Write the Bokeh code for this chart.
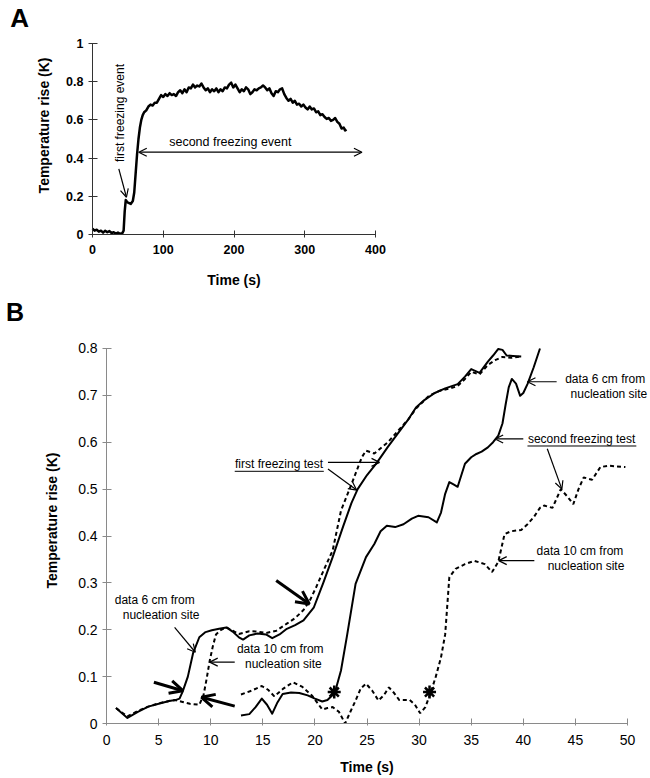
from math import pi
from bokeh.plotting import figure
from bokeh.models import Range1d, FixedTicker, Label, Arrow, OpenHead, LinearAxis
from bokeh.layouts import column
from bokeh.embed import file_html
from bokeh.resources import INLINE

# ---------------- Panel A data ----------------
A_T = [0, 3, 6, 9, 12, 15, 18, 21, 24, 27, 30, 33, 36, 39, 42, 44, 45.5, 47, 49, 51, 54, 57, 59, 61, 63, 65,
       67, 69, 71, 73, 76, 79, 82, 85, 88, 91, 94, 97, 100, 103, 106, 109, 112, 115, 118, 121, 124, 127, 130,
       133, 136, 139, 142, 145, 148, 151, 154, 157, 160, 163, 166, 169, 172, 175, 178, 181, 184, 187, 190, 193,
       196, 199, 202, 205, 208, 211, 214, 217, 220, 223, 226, 229, 232, 235, 238, 241, 244, 247, 250, 253, 256,
       259, 262, 265, 268, 271, 274, 277, 280, 283, 286, 289, 292, 295, 298, 301, 304, 307, 310, 313, 316, 319,
       322, 325, 328, 331, 334, 337, 340, 343, 346, 349, 352, 355, 357, 359]
A_V = [0.03, 0.02, 0.025, 0.015, 0.02, 0.01, 0.02, 0.012, 0.018, 0.008, 0.012, 0.005, 0.01, 0.004, 0.006, 0.02,
       0.12, 0.18, 0.17, 0.165, 0.16, 0.175, 0.22, 0.32, 0.42, 0.5, 0.56, 0.6, 0.625, 0.64, 0.65, 0.67, 0.68,
       0.675, 0.69, 0.69, 0.71, 0.73, 0.72, 0.735, 0.725, 0.74, 0.73, 0.735, 0.725, 0.745, 0.755, 0.74, 0.76,
       0.745, 0.77, 0.765, 0.785, 0.77, 0.78, 0.775, 0.79, 0.77, 0.755, 0.765, 0.745, 0.76, 0.75, 0.765, 0.745,
       0.76, 0.75, 0.77, 0.765, 0.785, 0.795, 0.77, 0.785, 0.765, 0.745, 0.76, 0.75, 0.77, 0.76, 0.735, 0.745,
       0.76, 0.755, 0.765, 0.77, 0.78, 0.77, 0.755, 0.765, 0.74, 0.725, 0.75, 0.745, 0.76, 0.765, 0.735, 0.715,
       0.7, 0.71, 0.69, 0.7, 0.68, 0.685, 0.67, 0.68, 0.665, 0.655, 0.67, 0.655, 0.66, 0.64, 0.645, 0.625, 0.63,
       0.615, 0.605, 0.61, 0.595, 0.6, 0.61, 0.59, 0.58, 0.555, 0.56, 0.545, 0.55]
A_XTICKS = [0, 100, 200, 300, 400]
A_XLABELS = ["0", "100", "200", "300", "400"]
A_YTICKS = [0, 0.2, 0.4, 0.6, 0.8, 1.0]
A_YLABELS = ["0", "0.2", "0.4", "0.6", "0.8", "1"]

# ---------------- Panel B data ----------------
# first freezing test, 6 cm (solid)
B1_T = [0.9, 2.0, 3.0, 4.0, 5.0, 6.0, 6.6, 7.0, 7.3, 7.8, 8.3, 8.9, 9.5, 10.1, 10.8, 11.5, 12.1, 12.7, 13.1,
        13.7, 14.5, 15.3, 15.9, 16.6, 17.3, 18.1, 18.9, 19.9, 20.8, 21.7, 22.7, 23.5, 24.1, 25.0, 25.9, 27.0,
        28.0, 29.0, 29.7, 30.5, 31.5, 32.5, 33.7, 34.4, 35.0, 35.8, 36.6, 37.1, 37.6, 38.0, 38.4, 39.0, 39.8]
B1_V = [0.033, 0.012, 0.025, 0.036, 0.042, 0.048, 0.05, 0.053, 0.068, 0.10, 0.15, 0.184, 0.195, 0.199, 0.202,
        0.205, 0.196, 0.184, 0.179, 0.188, 0.192, 0.19, 0.182, 0.19, 0.202, 0.21, 0.22, 0.248, 0.30, 0.355, 0.42,
        0.47, 0.50, 0.53, 0.555, 0.59, 0.62, 0.65, 0.674, 0.69, 0.705, 0.715, 0.724, 0.74, 0.756, 0.748, 0.772,
        0.785, 0.799, 0.797, 0.785, 0.784, 0.783]
# first freezing test, 10 cm (dotted)
B2_T = [0.9, 2.0, 3.0, 4.0, 5.0, 6.0, 6.6, 7.3, 8.0, 8.9, 9.3, 9.6, 9.9, 10.2, 10.5, 11.0, 11.5, 12.1, 12.7,
        13.7, 14.5, 15.3, 16.3, 17.3, 18.1, 18.9, 19.5, 20.1, 20.9, 21.7, 22.5, 23.5, 24.5, 24.9, 25.7, 27.0,
        28.0, 29.0, 29.7, 31.0, 32.0, 33.0, 33.7, 34.4, 35.0, 35.8, 36.6, 37.3, 38.0, 38.8, 39.8]
B2_V = [0.033, 0.015, 0.027, 0.036, 0.043, 0.048, 0.05, 0.046, 0.042, 0.04, 0.06, 0.095, 0.134, 0.165, 0.19,
        0.2, 0.205, 0.198, 0.191, 0.197, 0.196, 0.193, 0.198, 0.213, 0.225, 0.242, 0.262, 0.29, 0.33, 0.369,
        0.454, 0.51, 0.568, 0.582, 0.576, 0.60, 0.625, 0.65, 0.672, 0.70, 0.71, 0.715, 0.72, 0.735, 0.75, 0.745,
        0.765, 0.775, 0.782, 0.78, 0.783]
# second freezing test, 6 cm (solid)
B3_T = [12.9, 13.7, 14.3, 14.9, 15.4, 15.9, 16.4, 16.9, 17.7, 18.5, 19.3, 20.0, 20.7, 21.2, 21.9, 22.5, 23.1,
        23.9, 24.9, 25.7, 26.3, 26.9, 27.7, 28.5, 29.3, 29.9, 30.9, 31.7, 32.1, 32.5, 32.9, 33.3, 33.7, 34.4,
        35.0, 35.5, 36.0, 36.6, 37.1, 37.6, 38.0, 38.3, 38.6, 38.9, 39.3, 39.7, 40.0, 40.4, 41.0, 41.6]
B3_V = [0.017, 0.02, 0.035, 0.053, 0.04, 0.021, 0.045, 0.063, 0.066, 0.065, 0.06, 0.053, 0.047, 0.05, 0.065,
        0.113, 0.19, 0.298, 0.355, 0.383, 0.41, 0.422, 0.419, 0.425, 0.437, 0.443, 0.44, 0.429, 0.45, 0.49,
        0.515, 0.51, 0.505, 0.554, 0.568, 0.575, 0.58, 0.589, 0.6, 0.614, 0.64, 0.68, 0.717, 0.735, 0.725,
        0.699, 0.705, 0.724, 0.76, 0.80]
# second freezing test, 10 cm (dotted)
B4_T = [12.9, 13.9, 14.9, 15.5, 16.1, 17.0, 17.9, 18.8, 19.7, 20.2, 20.7, 21.2, 21.7, 22.3, 22.9, 23.4, 23.9,
        24.4, 24.9, 25.5, 26.1, 26.6, 27.1, 27.6, 28.1, 28.6, 29.1, 29.6, 30.1, 30.6, 31.1, 31.6, 32.1, 32.5,
        32.9, 33.5, 34.4, 35.3, 36.3, 37.0, 37.6, 38.2, 38.8, 39.8, 40.4, 41.0, 41.6, 42.0, 42.8, 43.6, 44.2,
        44.8, 45.3, 45.8, 46.6, 47.4, 48.2, 49.8]
B4_V = [0.062, 0.07, 0.08, 0.072, 0.058, 0.075, 0.088, 0.078, 0.06, 0.045, 0.03, 0.033, 0.035, 0.025, 0.0,
        0.025, 0.049, 0.075, 0.085, 0.07, 0.049, 0.06, 0.077, 0.065, 0.05, 0.05, 0.05, 0.04, 0.022, 0.035,
        0.065, 0.10, 0.141, 0.19, 0.312, 0.33, 0.34, 0.347, 0.34, 0.323, 0.345, 0.404, 0.41, 0.413, 0.425,
        0.44, 0.46, 0.465, 0.46, 0.50, 0.485, 0.468, 0.50, 0.525, 0.52, 0.547, 0.55, 0.547]
B_XTICKS = [0, 5, 10, 15, 20, 25, 30, 35, 40, 45, 50]
B_XLABELS = ["0", "5", "10", "15", "20", "25", "30", "35", "40", "45", "50"]
B_YTICKS = [0, 0.1, 0.2, 0.3, 0.4, 0.5, 0.6, 0.7, 0.8]
B_YLABELS = ["0", "0.1", "0.2", "0.3", "0.4", "0.5", "0.6", "0.7", "0.8"]
STAR_T = [21.85, 31.0]
STAR_V = [0.067, 0.067]

FONT = "Liberation Sans"


def make_axes(p, xb, yb, xticks, xlabels, yticks, ylabels, bold, size, color,
              xin, xout, yin, yout, xstand, ystand):
    xa = LinearAxis(fixed_location=0, bounds=xb, ticker=FixedTicker(ticks=xticks),
                    major_label_overrides=dict(zip(xticks, xlabels)))
    ya = LinearAxis(fixed_location=0, bounds=yb, ticker=FixedTicker(ticks=yticks),
                    major_label_overrides=dict(zip(yticks, ylabels)))
    for ax, tin, tout, st in ((xa, xin, xout, xstand), (ya, yin, yout, ystand)):
        ax.axis_line_color = color
        ax.major_tick_line_color = color
        ax.minor_tick_line_color = None
        ax.major_tick_in = tin
        ax.major_tick_out = tout
        ax.major_label_standoff = st
        ax.major_label_text_font = FONT
        ax.major_label_text_font_size = size
        ax.major_label_text_font_style = "bold" if bold else "normal"
        ax.major_label_text_color = "black"
    p.add_layout(xa, "below")
    p.add_layout(ya, "left")
    p.xgrid.grid_line_color = None
    p.ygrid.grid_line_color = None
    p.outline_line_color = None
    p.background_fill_color = "white"
    p.border_fill_color = "white"


def txt(p, x, y, s, size="12px", bold=False, align="center", baseline="middle", angle=0.0):
    p.add_layout(Label(x=x, y=y, text=s, text_font=FONT, text_font_size=size,
                       text_font_style="bold" if bold else "normal", text_align=align,
                       text_baseline=baseline, angle=angle, text_color="black"))


def arrow(p, x0, y0, x1, y1, w=1.2, size=8, both=False):
    kw = dict(end=OpenHead(size=size, line_width=w, line_color="black"),
              x_start=x0, y_start=y0, x_end=x1, y_end=y1, line_width=w, line_color="black")
    kw["start"] = OpenHead(size=size, line_width=w, line_color="black") if both else None
    p.add_layout(Arrow(**kw))


def rule(p, x0, x1, y):
    p.add_layout(Arrow(start=None, end=None, x_start=x0, y_start=y, x_end=x1, y_end=y,
                       line_width=1, line_color="black"))


# ================= Panel A =================
pA = figure(width=408, height=290, output_backend="svg", toolbar_location=None,
            x_axis_location=None, y_axis_location=None,
            x_range=Range1d(-130.0, 446.6), y_range=Range1d(-0.2932, 1.2251),
            min_border_left=0, min_border_right=0, min_border_top=0, min_border_bottom=0)
make_axes(pA, (0, 400), (0, 1), A_XTICKS, A_XLABELS, A_YTICKS, A_YLABELS, True, "12.5px", "#333333",
          4, 3, 5, 4, 8, 5)

pA.line(A_T, A_V, line_color="black", line_width=2.5, line_join="round")

txt(pA, -103, 1.134, "A", size="26px", bold=True)
txt(pA, -68.5, 0.571, "Temperature rise (K)", size="14px", bold=True, angle=pi / 2)
txt(pA, 200, -0.236, "Time (s)", size="14px", bold=True)
txt(pA, 39.5, 0.636, "first freezing event", size="12px", angle=pi / 2)
arrow(pA, 37.2, 0.344, 48.0, 0.195)
txt(pA, 194.8, 0.483, "second freezing event", size="12.5px")
arrow(pA, 65.4, 0.431, 380.8, 0.431, both=True)

# ================= Panel B =================
pB = figure(width=650, height=488, output_backend="svg", toolbar_location=None,
            x_axis_location=None, y_axis_location=None,
            x_range=Range1d(-10.184, 52.21), y_range=Range1d(-0.1173, 0.9237),
            min_border_left=0, min_border_right=0, min_border_top=0, min_border_bottom=0)
make_axes(pB, (0, 50), (0, 0.8), B_XTICKS, B_XLABELS, B_YTICKS, B_YLABELS, False, "14px", "#8a8a8a",
          5, 2, 5, 4, 9, 5)

pB.line(B1_T, B1_V, line_color="black", line_width=2, line_join="round")
pB.line(B2_T, B2_V, line_color="black", line_width=2, line_dash="4 3")
pB.line(B3_T, B3_V, line_color="black", line_width=2, line_join="round")
pB.line(B4_T, B4_V, line_color="black", line_width=2, line_dash="4 3")
pB.scatter(STAR_T, STAR_V, marker="asterisk", size=13, line_width=2.5, line_color="black")

txt(pB, -8.79, 0.878, "B", size="25px", bold=True)
txt(pB, -5.24, 0.433, "Temperature rise (K)", size="14px", bold=True, angle=pi / 2)
txt(pB, 25.0, -0.0935, "Time (s)", size="14px", bold=True)

# first freezing test
txt(pB, 16.55, 0.554, "first freezing test", size="12px")
rule(pB, 12.3, 20.85, 0.538)
arrow(pB, 21.25, 0.557, 26.2, 0.557)
arrow(pB, 21.25, 0.543, 24.0, 0.498)
# second freezing test
txt(pB, 45.6, 0.607, "second freezing test", size="12px")
rule(pB, 40.4, 50.85, 0.592)
arrow(pB, 40.0, 0.607, 37.3, 0.607)
arrow(pB, 42.3, 0.586, 43.7, 0.500)
# right-side labels
txt(pB, 51.7, 0.735, "data 6 cm from", size="12px", align="right")
txt(pB, 51.9, 0.703, "nucleation site", size="12px", align="right")
arrow(pB, 43.2, 0.729, 40.4, 0.729)
txt(pB, 49.6, 0.369, "data 10 cm from", size="12px", align="right")
txt(pB, 49.7, 0.335, "nucleation site", size="12px", align="right")
arrow(pB, 41.06, 0.3475, 37.64, 0.3475)
# left labels
txt(pB, 4.62, 0.264, "data 6 cm from", size="12px")
txt(pB, 5.23, 0.232, "nucleation site", size="12px")
arrow(pB, 6.53, 0.205, 8.52, 0.152)
txt(pB, 16.67, 0.158, "data 10 cm from", size="12px")
txt(pB, 16.97, 0.126, "nucleation site", size="12px")
arrow(pB, 12.3, 0.131, 9.9, 0.131)
# bold arrows
arrow(pB, 4.54, 0.088, 7.32, 0.070, w=3, size=13)
arrow(pB, 12.3, 0.037, 9.11, 0.056, w=3, size=13)
arrow(pB, 16.28, 0.305, 19.46, 0.255, w=3, size=13)

layout = column(pA, pB)
open("out.html", "w").write(file_html(layout, INLINE))
